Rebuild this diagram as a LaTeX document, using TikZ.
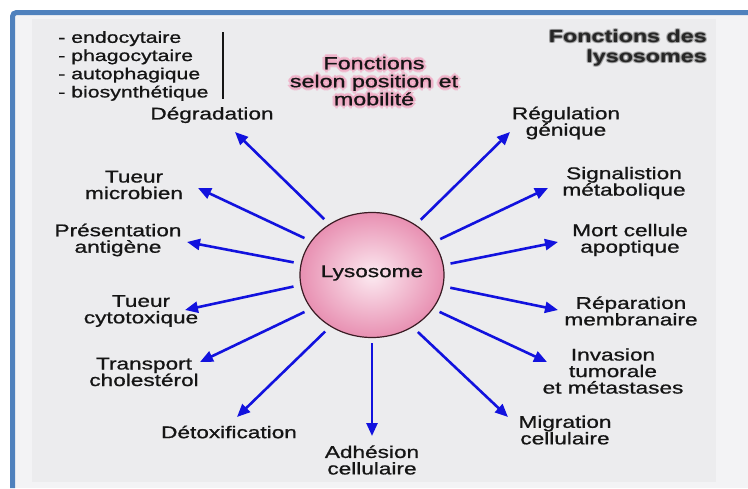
\documentclass[tikz,border=0pt]{standalone}
\usepackage{fontspec}
\setmainfont{Liberation Sans}
\newfontfamily\lblfont{Liberation Sans}[FakeBold=0.8]
\usetikzlibrary{shapes.geometric,arrows.meta}
\definecolor{frameblue}{HTML}{4F81BD}
\definecolor{outerbg}{HTML}{F3F3F5}
\definecolor{panelbg}{HTML}{ECECEE}
\definecolor{arrowblue}{RGB}{18,18,222}
\definecolor{lysout}{HTML}{E890B2}
\definecolor{lysin}{HTML}{FCEAF1}
\definecolor{lysborder}{HTML}{3B1C24}
\definecolor{txt}{HTML}{151515}
\definecolor{pinkglow}{HTML}{F2A9C4}
\tikzset{
  lbl/.style={font=\lblfont\fontsize{17}{16.5}\selectfont, text=txt, align=center, inner sep=0pt, xscale=1.33, transform shape},
  listtxt/.style={font=\lblfont\fontsize{16}{18.2}\selectfont, text=txt, align=left, inner sep=0pt, xscale=1.33, transform shape},
  ptitle/.style={font=\lblfont\fontsize{17.5}{18}\selectfont, align=center, inner sep=0pt, xscale=1.33, transform shape},
  btitle/.style={font=\bfseries\fontsize{17.5}{20}\selectfont, align=right, inner sep=0pt, xscale=1.33, transform shape, anchor=east},
  arr/.style={draw=arrowblue, line width=2.6pt, shorten <=7pt, -{Triangle[length=13pt,width=11pt]}},
}
\begin{document}
\begin{tikzpicture}[x=1pt,y=-1pt]
\useasboundingbox (0,0) rectangle (748,488);
% background
\fill[white] (0,0) rectangle (748,488);
\fill[outerbg] (12,12) rectangle (748,488);
\fill[panelbg] (32,19) rectangle (716,482);
\draw[frameblue, line width=5pt, rounded corners=4pt] (12.5,488) -- (12.5,12.5) -- (748,12.5);

% top-left list
\node[listtxt, anchor=west] (list) at (58,66) {- endocytaire\\- phagocytaire\\- autophagique\\- biosynthétique};
\coordinate (bartop) at (223,32);
\coordinate (barbot) at (223,99);
\draw[txt, line width=1.6pt] (bartop) -- (barbot);

% pink-glow title
\foreach \dx/\dy [count=\k] in {2.2/0,-2.2/0,0/2.2,0/-2.2,1.6/1.6,-1.6/1.6,1.6/-1.6,-1.6/-1.6,3/0,-3/0,0/3,0/-3}
  \node[ptitle, text=pinkglow, opacity=0.45] (pg\k) at (374+\dx,81+\dy) {Fonctions\\selon position et\\mobilité};
\node[ptitle, text=txt] (ptitle) at (374,81) {Fonctions\\selon position et\\mobilité};

% right title with dark halo
\foreach \dx/\dy [count=\k] in {1.3/0,-1.3/0,0/1.3,0/-1.3,1/1,-1/1,1/-1,-1/-1}
  \node[btitle, text=black!55, opacity=0.35] (bg\k) at (707+\dx,48+\dy) {Fonctions des\\lysosomes};
\node[btitle, text=black!85] (btitle) at (707,48) {Fonctions des\\lysosomes};

% lysosome
\node[ellipse, minimum width=144pt, minimum height=125pt, inner sep=0pt, draw=lysborder, line width=1.2pt, inner color=lysin, outer color=lysout] (lys) at (372,275) {};
\node[font=\lblfont\fontsize{17}{17}\selectfont, text=txt, inner sep=0pt] (lystxt) at (372,273) {\scalebox{1.33}[1]{Lysosome}};

% labels
\node[lbl] (deg) at (212,115) {Dégradation};
\node[lbl] (mic) at (134,185) {Tueur\\microbien};
\node[lbl] (pres) at (118,240) {Présentation\\antigène};
\node[lbl] (cyto) at (141,311) {Tueur\\cytotoxique};
\node[lbl] (chol) at (144,372) {Transport\\cholestérol};
\node[lbl] (detox) at (229,432) {Détoxification};
\node[lbl] (adh) at (372,460) {Adhésion\\cellulaire};
\node[lbl] (mig) at (565,430) {Migration\\cellulaire};
\node[lbl] (inv) at (613,371) {Invasion\\tumorale\\et métastases};
\node[lbl] (rep) at (631,311) {Réparation\\membranaire};
\node[lbl] (mort) at (630,240) {Mort cellule\\apoptique};
\node[lbl] (sig) at (624,183) {Signalistion\\métabolique};
\node[lbl] (reg) at (566,123) {Régulation\\génique};

% arrow tips
\coordinate (t1) at (235,132);
\coordinate (t2) at (198,188);
\coordinate (t3) at (187,242);
\coordinate (t4) at (185,310);
\coordinate (t5) at (200,362);
\coordinate (t6) at (237,417);
\coordinate (t7) at (372,436);
\coordinate (t8) at (508,417);
\coordinate (t9) at (547,362);
\coordinate (t10) at (558,310);
\coordinate (t11) at (558,242);
\coordinate (t12) at (548,188);
\coordinate (t13) at (510,132);

\draw[arr] (lys.130) -- (t1);
\draw[arr] (lys.151) -- (t2);
\draw[arr] (lys.171.5) -- (t3);
\draw[arr] (lys.188) -- (t4);
\draw[arr] (lys.209.6) -- (t5);
\draw[arr] (lys.231.7) -- (t6);
\draw[arr, shorten <=5pt] (lys.270) -- (t7);
\draw[arr] (lys.308.9) -- (t8);
\draw[arr] (lys.331.5) -- (t9);
\draw[arr] (lys.351.6) -- (t10);
\draw[arr] (lys.8.4) -- (t11);
\draw[arr] (lys.28.2) -- (t12);
\draw[arr] (lys.49.9) -- (t13);
\end{tikzpicture}
\end{document}
